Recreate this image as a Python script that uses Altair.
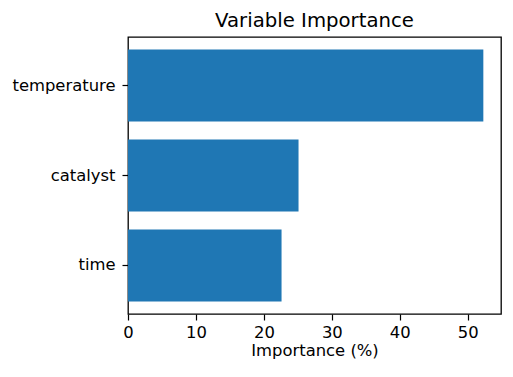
import altair as alt
import pandas as pd

variables = ["temperature", "catalyst", "time"]
importance = [52.3, 25.1, 22.6]
x_ticks = [0, 10, 20, 30, 40, 50]
title_text = "Variable Importance"

df = pd.DataFrame({"variable": variables, "importance": importance})

FONT = "DejaVu Sans"
W, H = 373, 277

bars = alt.Chart(df).mark_bar(color="#1f77b4").encode(
    x=alt.X(
        "importance:Q",
        scale=alt.Scale(domain=[0, 54.9], nice=False, zero=True),
        axis=alt.Axis(
            title="Importance (%)",
            values=x_ticks,
            labelPadding=4,
            titlePadding=2,
            labelFlush=False,
        ),
    ),
    y=alt.Y(
        "variable:N",
        sort=variables,
        scale=alt.Scale(paddingInner=0.2, paddingOuter=0.14),
        axis=alt.Axis(title=None, labelPadding=7),
    ),
)

title = alt.Chart(pd.DataFrame({"t": [title_text]})).mark_text(
    font=FONT,
    fontSize=19.7,
    color="black",
    baseline="alphabetic",
    align="center",
).encode(
    text="t:N",
    x=alt.value(W / 2),
    y=alt.value(-10),
)

chart = alt.layer(bars, title).properties(
    width=W,
    height=H,
    padding={"left": 120, "top": 29, "right": 4, "bottom": 48},
    autosize="none",
).configure_view(
    stroke="black", strokeWidth=1.3
).configure_axis(
    grid=False,
    domain=False,
    tickColor="black",
    tickSize=6,
    tickWidth=1.2,
    labelColor="black",
    labelFont=FONT,
    labelFontSize=16.4,
    titleFont=FONT,
    titleFontSize=16.4,
    titleFontWeight="normal",
    titleColor="black",
)

chart.save("out.html", embed_options={"renderer": "svg", "actions": False})
